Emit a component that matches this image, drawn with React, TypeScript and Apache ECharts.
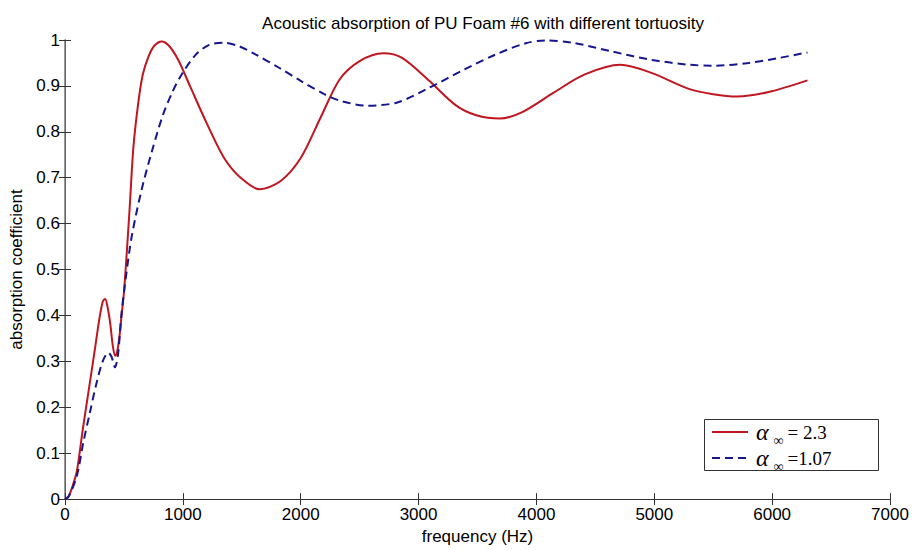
import React, { useEffect, useRef } from "react";
import * as echarts from "echarts";

const chartTitle = "Acoustic absorption of PU Foam #6 with different tortuosity";
const xAxisName = "frequency (Hz)";
const yAxisName = "absorption coefficient";
const xTicks = [0, 1000, 2000, 3000, 4000, 5000, 6000, 7000];
const yTicks = [0, 0.1, 0.2, 0.3, 0.4, 0.5, 0.6, 0.7, 0.8, 0.9, 1];

// alpha_inf = 2.3 (solid red)
const freqRed = [0, 30, 60, 100, 150, 200, 250, 290, 320, 340, 360, 385, 405, 425, 440, 460, 480, 500, 525, 550, 580, 620, 660, 710, 760, 820, 880, 960, 1060, 1200, 1350, 1490, 1650, 1830, 2000, 2165, 2330, 2500, 2700, 2860, 3090, 3320, 3490, 3690, 3880, 4150, 4410, 4710, 4970, 5300, 5500, 5700, 5960, 6300];
const absRed = [0, 0.006, 0.025, 0.06, 0.15, 0.235, 0.32, 0.39, 0.43, 0.436, 0.42, 0.38, 0.335, 0.312, 0.318, 0.35, 0.4, 0.45, 0.54, 0.64, 0.765, 0.86, 0.925, 0.965, 0.988, 0.997, 0.988, 0.957, 0.9, 0.82, 0.743, 0.7, 0.675, 0.693, 0.743, 0.829, 0.914, 0.954, 0.971, 0.961, 0.911, 0.857, 0.836, 0.829, 0.843, 0.886, 0.925, 0.946, 0.929, 0.893, 0.882, 0.877, 0.886, 0.912];

// alpha_inf = 1.07 (dashed blue)
const freqBlue = [0, 30, 100, 155, 210, 265, 320, 368, 395, 424, 450, 480, 520, 566, 651, 740, 830, 910, 990, 1110, 1220, 1350, 1480, 1620, 1820, 2000, 2200, 2330, 2560, 2820, 3090, 3390, 3650, 3910, 4080, 4310, 4640, 4970, 5300, 5500, 5800, 6060, 6300];
const absBlue = [0, 0.005, 0.05, 0.123, 0.187, 0.25, 0.3, 0.319, 0.31, 0.287, 0.315, 0.405, 0.49, 0.572, 0.675, 0.76, 0.836, 0.886, 0.925, 0.968, 0.989, 0.994, 0.986, 0.968, 0.939, 0.911, 0.882, 0.868, 0.857, 0.864, 0.896, 0.936, 0.968, 0.993, 0.999, 0.994, 0.975, 0.957, 0.946, 0.944, 0.95, 0.961, 0.973];

const legendRed = { alpha: "α", sub: "∞", rest: "= 2.3" };
const legendBlue = { alpha: "α", sub: "∞", rest: "=1.07" };

const RED = "#bf1620";
const BLUE = "#16168f";

export default function App() {
  const ref = useRef<HTMLDivElement>(null);
  useEffect(() => {
    if (!ref.current) return;
    const chart = echarts.init(ref.current, null, { renderer: "svg" });
    const redData = freqRed.map((f, i) => [f, absRed[i]]);
    const blueData = freqBlue.map((f, i) => [f, absBlue[i]]);
    const axisColor = "#333";
    const tickFont = { fontFamily: "Liberation Sans", fontSize: 17, color: "#000" };
    const yFmt = (v: number) => {
      const t = yTicks.find((y) => Math.abs(y - v) < 1e-6);
      return t === undefined ? "" : String(t);
    };
    const xFmt = (v: number) => {
      const t = xTicks.find((x) => Math.abs(x - v) < 1e-6);
      return t === undefined ? "" : String(t);
    };
    const rich = {
      a: { fontFamily: "Liberation Serif", fontStyle: "italic", fontSize: 24, fill: "#000", color: "#000" },
      s: { fontFamily: "Liberation Serif", fontSize: 14, fill: "#000", color: "#000", padding: [16, 4, 0, 5] },
      b: { fontFamily: "Liberation Serif", fontSize: 19, fill: "#000", color: "#000" },
    };
    const legendText = (l: { alpha: string; sub: string; rest: string }) =>
      `{a|${l.alpha}}{s|${l.sub}}{b|${l.rest}}`;
    chart.setOption({
      animation: false,
      backgroundColor: "#fff",
      title: {
        text: chartTitle,
        left: 478,
        top: 10,
        textAlign: "center",
        textStyle: { fontFamily: "Liberation Sans", fontSize: 17, fontWeight: "normal", color: "#000" },
      },
      graphic: [
        {
          type: "rect",
          shape: { x: 704.5, y: 419.5, width: 174, height: 51 },
          style: { fill: "#fff", stroke: "#333", lineWidth: 1 },
          z: 100,
        },
        {
          type: "line",
          shape: { x1: 712, y1: 432, x2: 748, y2: 432 },
          style: { stroke: RED, lineWidth: 2 },
          z: 101,
        },
        {
          type: "line",
          shape: { x1: 712, y1: 458, x2: 748, y2: 458 },
          style: { stroke: BLUE, lineWidth: 2, lineDash: [8, 5] },
          z: 101,
        },
        {
          type: "text",
          x: 756,
          y: 432,
          z: 101,
          style: { text: legendText(legendRed), rich, verticalAlign: "middle", align: "left" },
        },
        {
          type: "text",
          x: 756,
          y: 458,
          z: 101,
          style: { text: legendText(legendBlue), rich, verticalAlign: "middle", align: "left" },
        },
      ],
      grid: { left: 65, right: 22, top: 40, bottom: 42, show: false },
      xAxis: [
        {
          type: "value",
          min: 0,
          max: 7000,
          interval: 1000,
          name: xAxisName,
          nameLocation: "middle",
          nameGap: 27,
          nameTextStyle: { fontFamily: "Liberation Sans", fontSize: 17, color: "#000" },
          axisLine: { show: true, lineStyle: { color: axisColor, width: 1 } },
          axisTick: { show: true, inside: true, length: 6, lineStyle: { color: axisColor } },
          axisLabel: { ...tickFont, margin: 7, formatter: xFmt },
          splitLine: { show: false },
        },
        {
          type: "value",
          position: "top",
          min: 0,
          max: 7000,
          interval: 1000,
          axisLine: { show: true, lineStyle: { color: axisColor, width: 1 } },
          axisTick: { show: true, inside: true, length: 6, lineStyle: { color: axisColor } },
          axisLabel: { show: false },
          splitLine: { show: false },
        },
      ],
      yAxis: [
        {
          type: "value",
          min: 0,
          max: 1,
          interval: 0.1,
          name: yAxisName,
          nameLocation: "middle",
          nameGap: 35,
          nameTextStyle: { fontFamily: "Liberation Sans", fontSize: 17, color: "#000" },
          axisLine: { show: true, lineStyle: { color: axisColor, width: 1 } },
          axisTick: { show: true, inside: true, length: 6, lineStyle: { color: axisColor } },
          axisLabel: { ...tickFont, margin: 5, formatter: yFmt },
          splitLine: { show: false },
        },
        {
          type: "value",
          position: "right",
          min: 0,
          max: 1,
          interval: 0.1,
          axisLine: { show: true, lineStyle: { color: "#777", width: 1.5 } },
          axisTick: { show: true, inside: true, length: 6, lineStyle: { color: "#333" } },
          axisLabel: { show: false },
          splitLine: { show: false },
        },
      ],
      series: [
        {
          name: "red",
          type: "line",
          data: redData,
          showSymbol: false,
          symbol: "none",
          smooth: 0.3,
          lineStyle: { color: RED, width: 2 },
          itemStyle: { color: RED },
        },
        {
          name: "blue",
          type: "line",
          data: blueData,
          showSymbol: false,
          symbol: "none",
          smooth: 0.3,
          lineStyle: { color: BLUE, width: 2, type: [8, 5] },
          itemStyle: { color: BLUE },
        },
      ],
    });
    return () => chart.dispose();
  }, []);
  return (
    <div
      ref={ref}
      style={{ position: "fixed", left: 0, top: 0, width: 912, height: 550 }}
    />
  );
}
